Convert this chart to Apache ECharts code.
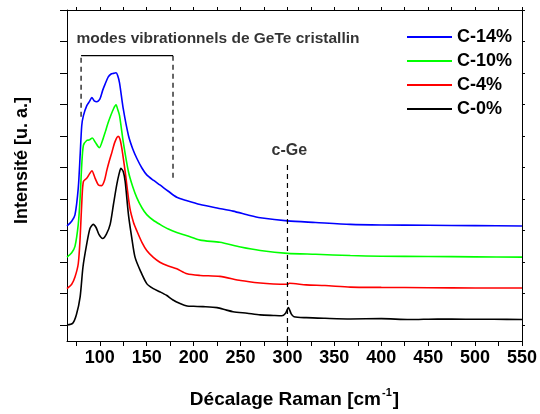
<!DOCTYPE html>
<html>
<head>
<meta charset="utf-8">
<script src="https://cdn.jsdelivr.net/npm/echarts@6/dist/echarts.min.js"></script>
<style>
  html, body { margin: 0; padding: 0; background: #fff; }
  #chart { width: 540px; height: 414px; }
</style>
</head>
<body>
<div id="chart"></div>
<script>
// Raman spectra of GeTe films with increasing carbon content (offset for clarity)
const seriesNames = ['C-14%', 'C-10%', 'C-4%', 'C-0%'];
const seriesColors = ['#0000ff', '#00ff00', '#ff0000', '#000000'];

// C-0%
const shift0 = [65, 71, 75, 79, 82, 86, 89.5, 93, 96, 99, 103, 107, 111, 114.5, 118, 120.5, 122.5, 125, 127, 130.5, 134, 137.5, 143, 150, 157, 164, 171, 178, 185.5, 193, 200, 210, 225, 235, 242, 257, 271, 285, 294, 298, 301, 304, 307, 320, 340, 367, 400, 430, 460, 490, 520, 550];
const int0 = [0.01, 0.06, 0.33, 0.90, 1.84, 2.57, 3.07, 3.20, 3.10, 2.88, 2.75, 2.89, 3.20, 3.83, 4.45, 4.80, 4.98, 4.87, 4.56, 3.51, 2.78, 2.16, 1.74, 1.32, 1.16, 1.06, 0.95, 0.80, 0.69, 0.61, 0.60, 0.59, 0.56, 0.48, 0.43, 0.38, 0.33, 0.31, 0.30, 0.38, 0.56, 0.36, 0.27, 0.24, 0.22, 0.20, 0.21, 0.18, 0.20, 0.19, 0.19, 0.18];

// C-4%
const shift4 = [65, 70, 73.5, 77, 79, 81, 82.5, 86, 89, 91.5, 95, 98.5, 102, 105, 107.5, 110, 113, 116, 119.5, 121.5, 123.5, 127, 132, 136, 139.5, 145, 150, 157, 164, 173, 182, 193, 207, 228, 250, 271, 285, 300, 302, 320, 340, 367, 400, 450, 500, 550];
const int4 = [1.16, 1.30, 1.53, 1.95, 2.78, 4.04, 4.56, 4.66, 4.80, 4.90, 4.66, 4.45, 4.43, 4.60, 4.92, 5.20, 5.50, 5.81, 5.99, 5.90, 5.60, 4.87, 3.72, 3.25, 2.99, 2.62, 2.37, 2.15, 2.00, 1.88, 1.79, 1.63, 1.58, 1.55, 1.42, 1.34, 1.31, 1.30, 1.33, 1.28, 1.26, 1.21, 1.20, 1.19, 1.18, 1.18];

// C-10%
const shift10 = [65, 70, 73.5, 77, 79, 80.7, 82.5, 86, 89, 92, 95, 99.5, 103.5, 106, 109, 114.5, 117.3, 119, 121, 125, 130.5, 135, 139.5, 145, 150, 157, 164, 173, 182, 193, 207, 228, 250, 271, 300, 330, 367, 400, 450, 500, 550];
const int10 = [2.16, 2.30, 2.50, 3.20, 4.04, 5.08, 5.71, 5.86, 5.88, 5.94, 5.81, 5.63, 5.92, 6.15, 6.44, 6.86, 6.99, 6.85, 6.65, 5.81, 4.87, 4.40, 4.04, 3.72, 3.51, 3.33, 3.20, 3.05, 2.94, 2.84, 2.70, 2.63, 2.48, 2.37, 2.28, 2.25, 2.21, 2.19, 2.18, 2.17, 2.16];

// C-14%
const shift14 = [65, 70, 73.5, 77, 79, 80.7, 82.5, 86, 89, 91.5, 94, 96.7, 100, 103, 105.5, 109, 112, 114.5, 117.3, 119, 121, 125, 130.5, 135, 139.5, 145, 150, 157, 164, 173, 182, 193, 207, 225, 242, 260, 271, 300, 330, 367, 400, 450, 500, 550];
const int14 = [3.15, 3.30, 3.50, 4.35, 5.39, 6.33, 6.65, 6.96, 7.10, 7.22, 7.12, 7.09, 7.17, 7.45, 7.64, 7.88, 7.97, 7.99, 8.01, 7.92, 7.69, 6.86, 6.02, 5.60, 5.29, 4.98, 4.77, 4.60, 4.45, 4.25, 4.06, 3.95, 3.83, 3.72, 3.62, 3.48, 3.41, 3.31, 3.26, 3.20, 3.18, 3.17, 3.16, 3.15];

// Axis ticks and labels
const xTicks = [75, 100, 125, 150, 175, 200, 225, 250, 275, 300, 325, 350, 375, 400, 425, 450, 475, 500, 525, 550];
const xLabels = [100, 150, 200, 250, 300, 350, 400, 450, 500, 550];
const yTicks = [0, 1, 2, 3, 4, 5, 6, 7, 8, 9, 10];

// Bracket around the GeTe crystalline modes and the c-Ge marker
const bracketX = [80, 178];
const bracketTop = 8.55;
const bracketBottoms = [6.61, 4.66];
const cGeShift = 300;
const cGeTop = 5.13;

const xMin = 65, xMax = 550;
const yMin = -0.5, yMax = 10;

const FONT = '"Liberation Sans", Arial, sans-serif';

function pairs(xs, ys) { return xs.map((x, i) => [x, ys[i]]); }

const spectra = [[shift14, int14], [shift10, int10], [shift4, int4], [shift0, int0]];

const lineSeries = spectra.map((s, i) => ({
  name: seriesNames[i],
  type: 'line',
  data: pairs(s[0], s[1]),
  symbol: 'none',
  smooth: 0.25,
  lineStyle: { color: seriesColors[i], width: 1.6 },
  itemStyle: { color: seriesColors[i] },
  z: 5 + i
}));

const guide = (data, dashed) => ({
  type: 'line',
  data: data,
  symbol: 'none',
  silent: true,
  lineStyle: { color: '#000', width: 1.2, type: dashed ? [5, 4] : 'solid' },
  z: 10
});

const annotations = {
  type: 'scatter',
  symbolSize: 0,
  silent: true,
  data: [
    { value: [75, 9.10], label: { show: true, position: 'right', distance: 0, formatter: 'modes vibrationnels de GeTe cristallin', fontSize: 15.5 } },
    { value: [302, 5.54], label: { show: true, position: 'inside', formatter: 'c-Ge', fontSize: 16 } }
  ],
  label: { color: '#000', fontWeight: 'bold', fontFamily: FONT },
  z: 12
};

const frameAxis = {
  type: 'value',
  axisLine: { show: true, onZero: false, lineStyle: { color: '#000', width: 1 } },
  axisLabel: { show: false },
  splitLine: { show: false }
};

const chart = echarts.init(document.getElementById('chart'), null, { renderer: 'canvas' });

chart.setOption({
  animation: false,
  backgroundColor: '#fff',
  grid: { left: 67, right: 18, top: 10, bottom: 69 },
  legend: {
    data: seriesNames.map(n => ({ name: n, icon: 'rect' })),
    orient: 'vertical',
    left: 402,
    top: 23,
    itemWidth: 45,
    itemHeight: 2,
    itemGap: 6,
    textStyle: { fontSize: 18, fontWeight: 'bold', color: '#000', fontFamily: FONT, lineHeight: 18 }
  },
  xAxis: [Object.assign({}, frameAxis, {
    min: xMin, max: xMax,
    name: '{n|Décalage Raman [cm}{s|-1}{n|]}',
    nameLocation: 'middle',
    nameGap: 46,
    nameTextStyle: {
      rich: {
        n: { fontSize: 19, fontWeight: 'bold', fontFamily: FONT, color: '#000', lineHeight: 22, verticalAlign: 'bottom' },
        s: { fontSize: 11, fontWeight: 'bold', fontFamily: FONT, color: '#000', lineHeight: 22, verticalAlign: 'top', padding: [0, 1, 8, 1] }
      }
    },
    axisTick: { show: true, inside: false, length: 5, customValues: xTicks, lineStyle: { color: '#000' } },
    axisLabel: { show: true, margin: 8, fontSize: 18, fontWeight: 'bold', color: '#000', fontFamily: FONT, customValues: xLabels }
  }), Object.assign({}, frameAxis, {
    position: 'top',
    min: xMin, max: xMax,
    axisTick: { show: true, inside: false, length: 3, customValues: xTicks, lineStyle: { color: '#000' } }
  })],
  yAxis: [Object.assign({}, frameAxis, {
    min: yMin, max: yMax,
    name: 'Intensité [u. a.]',
    nameLocation: 'middle',
    nameGap: 36,
    nameTextStyle: { fontSize: 18, fontWeight: 'bold', color: '#000', fontFamily: FONT, padding: [0, 0, 0, 30] },
    axisTick: { show: true, inside: false, length: 7, customValues: yTicks, lineStyle: { color: '#000' } }
  }), Object.assign({}, frameAxis, {
    position: 'right',
    min: yMin, max: yMax,
    axisTick: { show: true, inside: false, length: 3, customValues: yTicks, lineStyle: { color: '#000' } }
  })],
  series: [
    ...lineSeries,
    guide([[bracketX[0], bracketBottoms[0]], [bracketX[0], bracketTop]], true),
    guide([[bracketX[0], bracketTop], [bracketX[1], bracketTop]], false),
    guide([[bracketX[1], bracketTop], [bracketX[1], bracketBottoms[1]]], true),
    guide([[cGeShift, yMin], [cGeShift, cGeTop]], true),
    annotations
  ]
});
</script>
</body>
</html>
